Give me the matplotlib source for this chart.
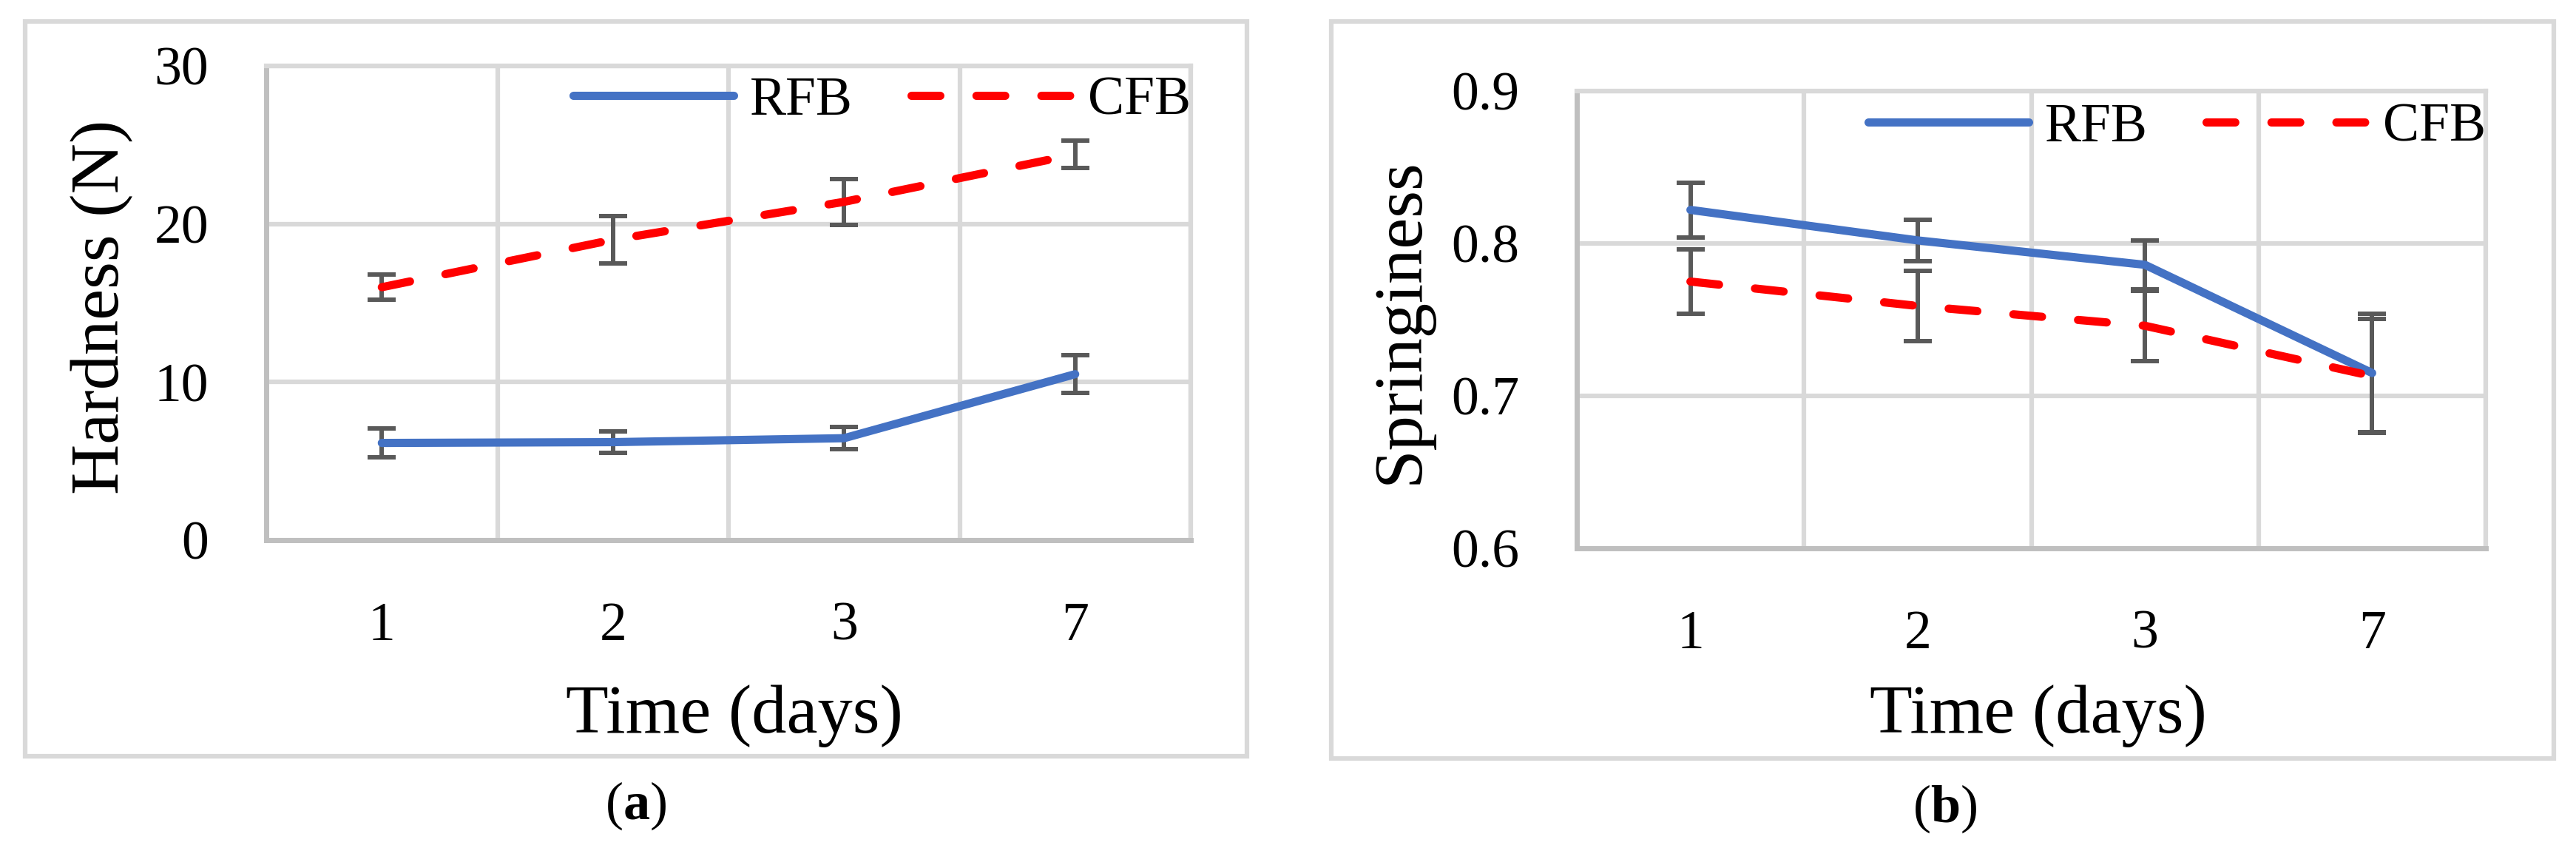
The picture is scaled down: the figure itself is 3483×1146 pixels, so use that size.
import numpy as np
import matplotlib
matplotlib.use('Agg')
import matplotlib.pyplot as plt
from matplotlib.patches import Rectangle

plt.rcParams['font.family'] = ['Liberation Serif', 'DejaVu Serif']
plt.rcParams['mathtext.fontset'] = 'custom'
plt.rcParams['mathtext.rm'] = 'Liberation Serif'
plt.rcParams['mathtext.bf'] = 'Liberation Serif:bold'

days = ['1', '2', '3', '7']

# hardness (N)
hard_rfb = [6.15, 6.2, 6.45, 10.5]
hard_rfb_err = [0.9, 0.7, 0.7, 1.2]
hard_cfb = [16.0, 19.0, 21.4, 24.4]
hard_cfb_err = [0.8, 1.5, 1.45, 0.85]

# springiness
spr_rfb = [0.822, 0.802, 0.786, 0.715]
spr_rfb_err = [0.018, 0.0135, 0.016, 0.039]
spr_cfb = [0.775, 0.759, 0.746, 0.713]
spr_cfb_err = [0.021, 0.023, 0.023, 0.0375]

W, H = 3483, 1146
BLUE = '#4472C4'
RED = '#FF0000'
GRID = '#D9D9D9'
AXC = '#BFBFBF'
ERR = '#595959'


def fx(px):
    return px / W


def fy(py):
    return 1 - py / H


def draw_panel(ax, rfb, rfb_err, cfb, cfb_err, ylim, yticks, ylabels, leg_y):
    x = np.arange(1, len(days) + 1)
    ax.errorbar(x, rfb, yerr=rfb_err, fmt='none', ecolor=ERR, elinewidth=4.3,
                capsize=14, capthick=4.3, zorder=3)
    ax.errorbar(x, cfb, yerr=cfb_err, fmt='none', ecolor=ERR, elinewidth=4.3,
                capsize=14, capthick=4.3, zorder=3)
    ax.plot(x, rfb, color=BLUE, lw=8, solid_capstyle='round',
            solid_joinstyle='round', label='RFB', zorder=4)
    ax.plot(x, cfb, color=RED, lw=8, linestyle=(0, (3.5, 4.4)),
            dash_capstyle='round', label='CFB', zorder=4)

    ax.set_xlim(0.5, len(days) + 0.5)
    ax.set_xticks(x, days)
    ax.set_xticks(np.arange(0.5, len(days) + 0.6, 1), minor=True)
    ax.set_ylim(*ylim)
    ax.set_yticks(yticks, ylabels)
    ax.grid(which='minor', axis='x', color=GRID, lw=4.5)
    ax.grid(which='major', axis='y', color=GRID, lw=4.5)
    ax.set_axisbelow(True)
    ax.tick_params(which='both', length=0, labelsize=53)
    ax.tick_params(axis='x', pad=60)
    ax.tick_params(axis='y', pad=56)
    for s in ['left', 'bottom']:
        ax.spines[s].set_color(AXC)
        ax.spines[s].set_linewidth(5)
    for s in ['top', 'right']:
        ax.spines[s].set_color(GRID)
        ax.spines[s].set_linewidth(4.5)

    ax.legend(loc='center right', bbox_to_anchor=(1.0, leg_y), ncol=2,
              frameon=False, fontsize=53, handlelength=2.95,
              handletextpad=0.3, columnspacing=1.07, borderpad=0,
              borderaxespad=0)


fig = plt.figure(figsize=(W / 100, H / 100), dpi=100)

# panel frames
fig.add_artist(Rectangle((fx(34), fy(1022)), fx(1686 - 34), (1022 - 29) / H,
                         transform=fig.transFigure, fill=False, ec=GRID, lw=4.5))
fig.add_artist(Rectangle((fx(1800), fy(1025)), fx(3453 - 1800), (1025 - 29) / H,
                         transform=fig.transFigure, fill=False, ec=GRID, lw=4.5))

ax1 = fig.add_axes([fx(360), fy(730), fx(1610 - 360), (730 - 89) / H])
draw_panel(ax1, hard_rfb, hard_rfb_err, hard_cfb, hard_cfb_err,
           (0, 30), [0, 10, 20, 30], ['0', '10', '20', '30'], 0.925)

ax2 = fig.add_axes([fx(2132), fy(741), fx(3361 - 2132), (741 - 123) / H])
draw_panel(ax2, spr_rfb, spr_rfb_err, spr_cfb, spr_cfb_err,
           (0.6, 0.9), [0.6, 0.7, 0.8, 0.9], ['0.6', '0.7', '0.8', '0.9'], 0.919)

fig.text(fx(138), fy(415), 'Hardness (N)', rotation=90, ha='center', va='center', fontsize=68)
fig.text(fx(1894), fy(434), 'Springiness', rotation=90, ha='center', va='center', fontsize=68)
fig.text(fx(993), fy(967), 'Time (days)', ha='center', va='center', fontsize=68)
fig.text(fx(2756), fy(968), 'Time (days)', ha='center', va='center', fontsize=68)

fig.text(fx(860), fy(1089), r'($\mathbf{a}$)', ha='center', va='center', fontsize=52)
fig.text(fx(2630), fy(1093), r'($\mathbf{b}$)', ha='center', va='center', fontsize=52)

fig.savefig('out.png', dpi=100)
